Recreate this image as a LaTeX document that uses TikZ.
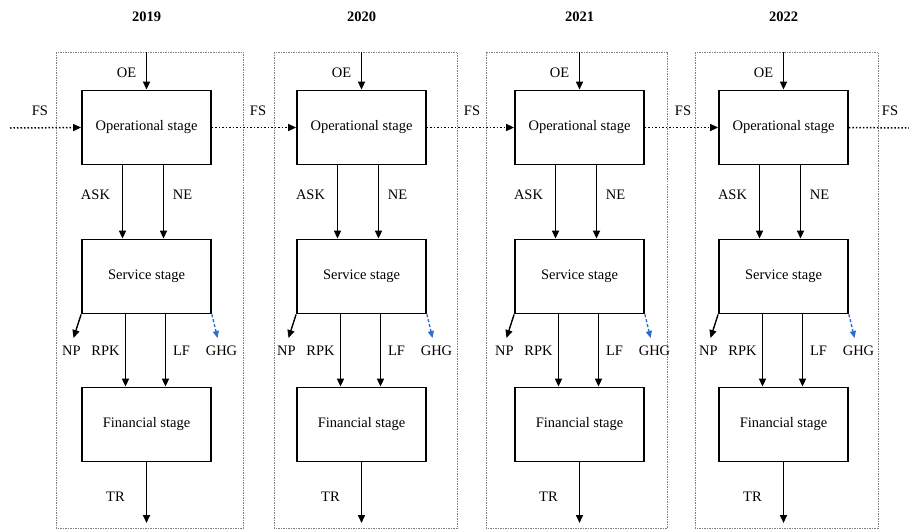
\documentclass[tikz,border=0pt]{standalone}
\usepackage{fontspec}
\setmainfont{Liberation Serif}
\usetikzlibrary{arrows.meta}

\begin{document}
\begin{tikzpicture}[x=1pt, y=-1pt,
    every node/.append style={font=\fontsize{14.5}{17}\selectfont},
    stagebox/.style={draw=black, line width=1.8pt, minimum width=129pt, minimum height=74pt, inner sep=0pt},
    flow/.style={-{Triangle[length=8pt,width=7pt]}, line width=1.6pt},
    emission/.style={-{Triangle[length=7pt,width=6pt]}, line width=1.4pt, dash pattern=on 3pt off 2pt, draw={rgb,255:red,45;green,110;blue,205}},
    fsline/.style={line width=1.5pt, dotted},
    yearframe/.style={draw=gray, dash pattern=on 1.5pt off 1pt, line width=0.6pt}]

    \useasboundingbox (0,0) rectangle (909,530);

    \foreach \cx/\fl/\fr/\yr in {146.5/56/243/2019, 361.5/274/457/2020, 579.5/486/667/2021, 783.5/695/878/2022} {
        \draw [yearframe] (\fl,52) rectangle (\fr,528);
        \node [font=\fontsize{14.5}{17}\selectfont\bfseries] (year\yr) at (\cx,17) {\yr};

        \node [stagebox] (op\yr) at (\cx,127.5) {Operational stage};
        \node [stagebox] (sv\yr) at (\cx,276.5) {Service stage};
        \node [stagebox] (fin\yr) at (\cx,424.5) {Financial stage};

        % inputs of the operational stage
        \coordinate (oe\yr) at (\cx,52);
        \draw [flow] (oe\yr) -- (op\yr.north);
        \node (oelbl\yr) at (\cx-20,73) {OE};

        \draw [flow] ([xshift=-24pt]op\yr.south) -- ([xshift=-24pt]sv\yr.north);
        \draw [flow] ([xshift=17pt]op\yr.south) -- ([xshift=17pt]sv\yr.north);
        \node (asklbl\yr) at (\cx-51,195) {ASK};
        \node (nelbl\yr) at (\cx+36,195) {NE};

        % outputs of the service stage
        \coordinate (np\yr) at (\cx-73,338);
        \coordinate (ghg\yr) at (\cx+71,338);
        \draw [flow, line width=1.4pt] (sv\yr.south west) -- (np\yr);
        \draw [emission] (sv\yr.south east) -- (ghg\yr);
        \draw [flow] ([xshift=-21pt]sv\yr.south) -- ([xshift=-21pt]fin\yr.north);
        \draw [flow] ([xshift=19pt]sv\yr.south) -- ([xshift=19pt]fin\yr.north);
        \node (nplbl\yr) at (\cx-75,351) {NP};
        \node (rpklbl\yr) at (\cx-41,351) {RPK};
        \node (lflbl\yr) at (\cx+35,351) {LF};
        \node (ghglbl\yr) at (\cx+75,351) {GHG};

        % result of the financial stage
        \coordinate (tr\yr) at (\cx,523);
        \draw [flow] (fin\yr.south) -- (tr\yr);
        \node (trlbl\yr) at (\cx-31,497) {TR};
    }

    % fleet size carried from year to year
    \coordinate (fsin) at (10,128);
    \coordinate (fsout) at (909,128);
    \draw [fsline, -{Triangle[length=8pt,width=7pt]}] (fsin) -- (op2019.west);
    \draw [fsline, -{Triangle[length=8pt,width=7pt]}] (op2019.east) -- (op2020.west);
    \draw [fsline, -{Triangle[length=8pt,width=7pt]}] (op2020.east) -- (op2021.west);
    \draw [fsline, -{Triangle[length=8pt,width=7pt]}] (op2021.east) -- (op2022.west);
    \draw [fsline] (op2022.east) -- (fsout);
    \node (fs0) at (40,111) {FS};
    \node (fs1) at (258,111) {FS};
    \node (fs2) at (472,111) {FS};
    \node (fs3) at (683,111) {FS};
    \node (fs4) at (890,111) {FS};

\end{tikzpicture}
\end{document}
